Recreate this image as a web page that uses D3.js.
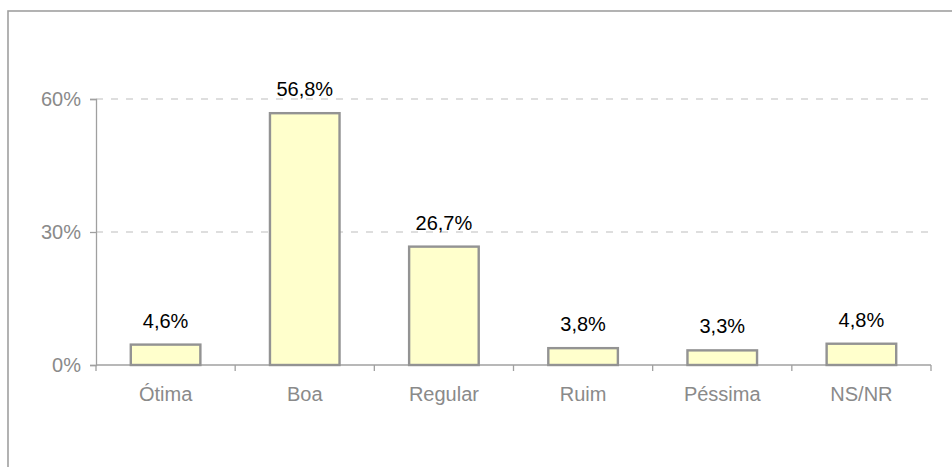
<!DOCTYPE html>
<html><head><meta charset="utf-8">
<script src="https://cdn.jsdelivr.net/npm/d3@7"></script>
<style>body{margin:0;background:#fff;} svg{display:block;}</style>
</head><body>
<script>
const categories = ["Ótima","Boa","Regular","Ruim","Péssima","NS/NR"];
const values = [4.6,56.8,26.7,3.8,3.3,4.8];
const valueLabels = ["4,6%","56,8%","26,7%","3,8%","3,3%","4,8%"];
const yTicks = [0,30,60];

const W=952,H=467;
const svg=d3.select("body").append("svg").attr("width",W).attr("height",H);
svg.append("rect").attr("x",8).attr("y",11).attr("width",1000).attr("height",600)
  .attr("fill","none").attr("stroke","#a0a0a0").attr("stroke-width",1.6);

const x=d3.scaleBand().domain(categories).range([96,931]).padding(0);
const y=d3.scaleLinear().domain([0,60]).range([365,99]);
const font="'Liberation Sans', Arial, sans-serif";

// gridlines
svg.append("g").selectAll("line").data(yTicks.filter(d=>d>0)).join("line")
  .attr("x1",96).attr("x2",931).attr("y1",d=>y(d)).attr("y2",d=>y(d))
  .attr("stroke","#bdbdbd").attr("stroke-width",1).attr("stroke-dasharray","7,8");

// y axis
const ya=svg.append("g").attr("transform","translate(96,0)")
  .call(d3.axisLeft(y).tickValues(yTicks).tickSize(6).tickPadding(9).tickFormat(d=>d+"%"));
ya.select(".domain").attr("stroke","#a0a0a0").attr("stroke-width",1.3);
ya.selectAll(".tick line").attr("stroke","#a0a0a0").attr("stroke-width",1.3);
ya.selectAll("text").attr("fill","#8a8a8a").attr("font-size","20px").attr("font-family",font);

// x axis
const xa=svg.append("g").attr("transform","translate(0,365)")
  .call(d3.axisBottom(x).tickSize(0).tickPadding(22));
xa.select(".domain").remove();
xa.selectAll("text").attr("fill","#8a8a8a").attr("font-size","20px").attr("font-family",font);
svg.append("line").attr("x1",96).attr("x2",931).attr("y1",365).attr("y2",365)
  .attr("stroke","#a0a0a0").attr("stroke-width",1.3);
const bounds=categories.map(c=>x(c)).concat([x(categories[categories.length-1])+x.bandwidth()]);
svg.append("g").selectAll("line").data(bounds).join("line")
  .attr("x1",d=>d).attr("x2",d=>d).attr("y1",365).attr("y2",371)
  .attr("stroke","#a0a0a0").attr("stroke-width",1.3);

// bars
const bw=x.bandwidth()*0.5;
svg.append("g").selectAll("rect").data(values).join("rect")
  .attr("x",(d,i)=>x(categories[i])+x.bandwidth()/2-bw/2)
  .attr("y",d=>y(d)).attr("width",bw).attr("height",d=>y(0)-y(d))
  .attr("fill","#ffffcc").attr("stroke","#939393").attr("stroke-width",2.4);

// value labels
svg.append("g").selectAll("text").data(values).join("text")
  .attr("x",(d,i)=>x(categories[i])+x.bandwidth()/2)
  .attr("y",d=>y(d)-17).attr("text-anchor","middle")
  .attr("font-size","20px").attr("font-family",font).attr("fill","#000")
  .text((d,i)=>valueLabels[i]);
</script>
</body></html>
